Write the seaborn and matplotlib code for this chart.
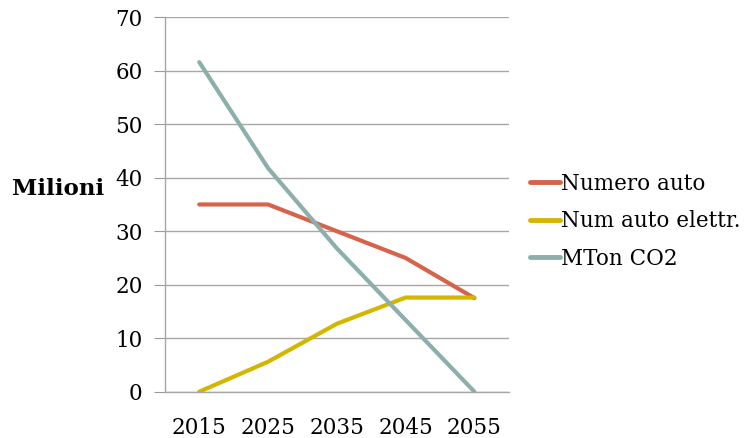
import pandas as pd
import seaborn as sns
import matplotlib.pyplot as plt

anni = ['2015', '2025', '2035', '2045', '2055']
numero_auto = [35, 35, 30, 25, 17.5]
auto_elettr = [0, 5.6, 12.7, 17.6, 17.6]
mton_co2 = [61.6, 41.8, 26.8, 13.4, 0]
serie = ['Numero auto', 'Num auto elettr.', 'MTon CO2']
colori = ['#D6634A', '#D2B600', '#8CAFAC']

df = pd.DataFrame({'anno': anni * 3,
                   'valore': numero_auto + auto_elettr + mton_co2,
                   'serie': [s for s in serie for _ in anni]})

sns.set_style('white')
plt.rcParams['font.family'] = ['DejaVu Serif']
plt.rcParams['text.color'] = 'black'
plt.rcParams['xtick.labelcolor'] = 'black'
plt.rcParams['ytick.labelcolor'] = 'black'

fig = plt.figure(figsize=(7.46, 4.38), dpi=100)
ax = fig.add_axes([0.221, 0.1057, 0.461, 0.855])
sns.lineplot(data=df, x='anno', y='valore', hue='serie', palette=colori,
             linewidth=3, sort=False, ax=ax)

ax.set_xlim(-0.5, 4.5)
ax.set_ylim(0, 70)
ax.set_yticks(range(0, 71, 10))
ax.set_xticks(range(len(anni)))
ax.set_xticklabels(anni)
ax.set_xticks([i - 0.5 for i in range(len(anni) + 1)], minor=True)
ax.tick_params(axis='x', which='major', length=0, labelsize=15.5, pad=18, labelcolor='black')
ax.tick_params(axis='x', which='minor', length=6, color='#9a9a9a', direction='out')
ax.tick_params(axis='y', length=8, color='#9a9a9a', labelsize=15.5, pad=8, direction='out',
               left=True, labelcolor='black')
ax.grid(axis='y', color='#a6a6a6', linewidth=1)
ax.set_axisbelow(True)
for s in ['top', 'right']:
    ax.spines[s].set_visible(False)
for s in ['left', 'bottom']:
    ax.spines[s].set_color('#a6a6a6')
    ax.spines[s].set_linewidth(1)
ax.set_xlabel('')
ax.set_ylabel('')
fig.text(0.016, 0.568, 'Milioni', fontsize=16.5, fontweight='bold', va='center', ha='left', color='black')

leg = ax.legend(loc='center left', bbox_to_anchor=(1.005, 0.455), frameon=False,
                fontsize=15.5, handlelength=1.4, handletextpad=0.05, labelspacing=0.72)
for l in leg.get_lines():
    l.set_linewidth(3.5)
for t in leg.get_texts():
    t.set_color('black')

fig.savefig('out.png', dpi=100)
